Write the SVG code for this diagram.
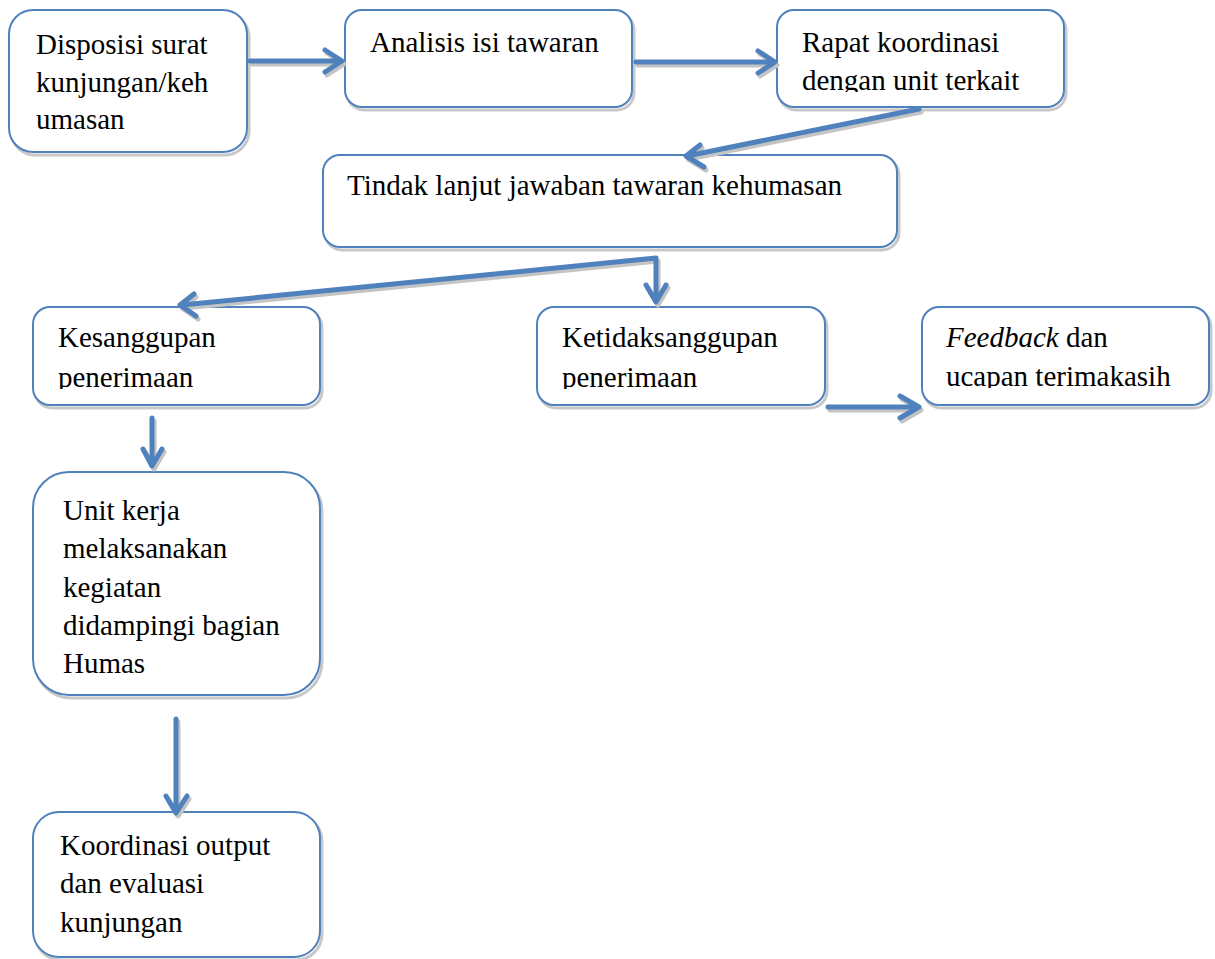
<svg xmlns="http://www.w3.org/2000/svg" width="1215" height="959" viewBox="0 0 1215 959">
<style>
.box{fill:#fff;stroke:#4F81BD;stroke-width:2}
.sh{fill:none;stroke:#c8c8c8;stroke-width:3}
.t{font-family:"Liberation Serif","Times New Roman",Times,serif;font-size:29px;fill:#000}
.ln{fill:none;stroke:#4F81BD;stroke-width:5;stroke-linecap:round;stroke-linejoin:round}
.lns{fill:none;stroke:#c4c4c4;stroke-width:5;stroke-linecap:round;stroke-linejoin:round}
</style>
<defs>
<clipPath id="c3"><rect x="777" y="10" width="290" height="82"/></clipPath>
<clipPath id="c5"><rect x="33" y="307" width="290" height="82"/></clipPath>
<clipPath id="c6"><rect x="537" y="307" width="290" height="82"/></clipPath>
<clipPath id="c7"><rect x="922" y="307" width="290" height="81"/></clipPath>
</defs>
<rect width="1215" height="959" fill="#fff"/>

<g id="n1">
<rect class="sh" x="11" y="13" width="238" height="142" rx="24"/>
<rect class="box" x="9" y="10" width="238" height="142" rx="24"/>
<text class="t" x="36" y="54">Disposisi surat</text>
<text class="t" x="36" y="92">kunjungan/keh</text>
<text class="t" x="36" y="129">umasan</text>
</g>
<g id="n2">
<rect class="sh" x="347" y="13" width="287" height="97" rx="17"/>
<rect class="box" x="345" y="10" width="287" height="97" rx="17"/>
<text class="t" x="370" y="52">Analisis isi tawaran</text>
</g>
<g id="n3">
<rect class="sh" x="779" y="13" width="287" height="97" rx="17"/>
<rect class="box" x="777" y="10" width="287" height="97" rx="17"/>
<g clip-path="url(#c3)">
<text class="t" x="802" y="52">Rapat koordinasi</text>
<text class="t" x="802" y="90">dengan unit terkait</text>
</g>
</g>
<g id="n4">
<rect class="sh" x="325" y="158" width="574" height="92" rx="17"/>
<rect class="box" x="323" y="155" width="574" height="92" rx="17"/>
<text class="t" x="347" y="195">Tindak lanjut jawaban tawaran kehumasan</text>
</g>
<g id="n5">
<rect class="sh" x="35" y="310" width="287" height="98" rx="17"/>
<rect class="box" x="33" y="307" width="287" height="98" rx="17"/>
<g clip-path="url(#c5)">
<text class="t" x="58" y="347">Kesanggupan</text>
<text class="t" x="58" y="387">penerimaan</text>
</g>
</g>
<g id="n6">
<rect class="sh" x="539" y="310" width="288" height="98" rx="17"/>
<rect class="box" x="537" y="307" width="288" height="98" rx="17"/>
<g clip-path="url(#c6)">
<text class="t" x="562" y="347">Ketidaksanggupan</text>
<text class="t" x="562" y="387">penerimaan</text>
</g>
</g>
<g id="n7">
<rect class="sh" x="924" y="310" width="287" height="98" rx="17"/>
<rect class="box" x="922" y="307" width="287" height="98" rx="17"/>
<g clip-path="url(#c7)">
<text class="t" x="946" y="347"><tspan font-style="italic">Feedback</tspan> dan</text>
<text class="t" x="946" y="386">ucapan terimakasih</text>
</g>
</g>
<g id="n8">
<rect class="sh" x="35" y="475" width="287" height="223" rx="36"/>
<rect class="box" x="33" y="472" width="287" height="223" rx="36"/>
<text class="t" x="63" y="520">Unit kerja</text>
<text class="t" x="63" y="558">melaksanakan</text>
<text class="t" x="63" y="597">kegiatan</text>
<text class="t" x="63" y="635">didampingi bagian</text>
<text class="t" x="63" y="673">Humas</text>
</g>
<g id="n9">
<rect class="sh" x="35" y="815" width="287" height="145" rx="26"/>
<rect class="box" x="33" y="812" width="287" height="145" rx="26"/>
<text class="t" x="60" y="855">Koordinasi output</text>
<text class="t" x="60" y="893">dan evaluasi</text>
<text class="t" x="60" y="932">kunjungan</text>
</g>

<g id="connectors">
<g transform="translate(2,3)">
<path class="lns" d="M250 61 H341 M325 50 L342 61 L325 72"/>
<path class="lns" d="M636 62 H774 M758 51 L775 62 L758 73"/>
<path class="lns" d="M919 109 L687 156 M700 145 L686 156 L704 167"/>
<path class="lns" d="M656 258 L182 305 M194 294 L180 305 L196 316 M656 258 V301 M646 285 L656 302 L666 285"/>
<path class="lns" d="M828 407 H918 M900 396 L919 407 L900 418"/>
<path class="lns" d="M152 418 V465 M143 449 L152 466 L162 449"/>
<path class="lns" d="M176 719 V812 M166 796 L176 813 L187 796"/>
</g>
<path class="ln" d="M250 61 H341 M325 50 L342 61 L325 72"/>
<path class="ln" d="M636 62 H774 M758 51 L775 62 L758 73"/>
<path class="ln" d="M919 109 L687 156 M700 145 L686 156 L704 167"/>
<path class="ln" d="M656 258 L182 305 M194 294 L180 305 L196 316 M656 258 V301 M646 285 L656 302 L666 285"/>
<path class="ln" d="M828 407 H918 M900 396 L919 407 L900 418"/>
<path class="ln" d="M152 418 V465 M143 449 L152 466 L162 449"/>
<path class="ln" d="M176 719 V812 M166 796 L176 813 L187 796"/>
</g>
</svg>
